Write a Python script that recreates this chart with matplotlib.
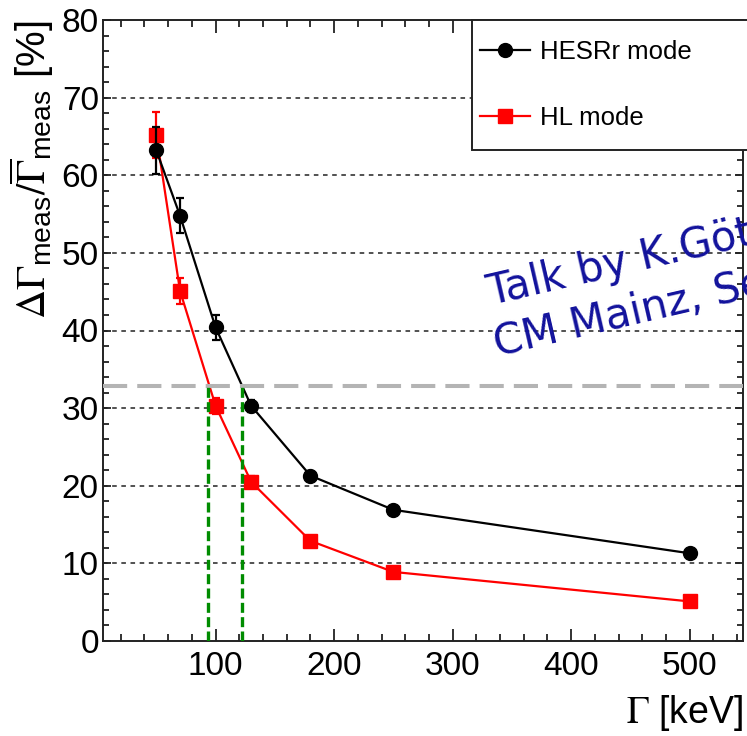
import matplotlib
matplotlib.use("Agg")
import matplotlib.pyplot as plt
from matplotlib.patches import Rectangle
from matplotlib.ticker import MultipleLocator

plt.rcParams['font.family'] = ['Liberation Sans', 'DejaVu Sans']
plt.rcParams['mathtext.fontset'] = 'custom'
plt.rcParams['mathtext.rm'] = 'STIXGeneral'
plt.rcParams['mathtext.it'] = 'STIXGeneral:italic'
plt.rcParams['mathtext.sf'] = 'Liberation Sans'

# data
gamma = [50, 70, 100, 130, 180, 250, 500]
hesr = [63.2, 54.8, 40.4, 30.3, 21.3, 16.9, 11.3]
hesr_err = [3.0, 2.3, 1.6, 0.8, 0.6, 0.5, 0.4]
hl = [65.2, 45.1, 30.3, 20.5, 12.9, 8.9, 5.1]
hl_err = [3.0, 1.7, 1.0, 0.7, 0.5, 0.4, 0.3]
labels = ["HESRr mode", "HL mode"]
limit = 32.8
cross = [93.3, 122.0]

W, H = 747, 736
fig = plt.figure(figsize=(W / 100, H / 100), dpi=100)
ax = fig.add_axes([103 / W, 1 - 641 / H, 640 / W, 621 / H])

ax.set_xlim(5, 545)
ax.set_ylim(0, 80)

# grid (horizontal only)
for yv in range(10, 80, 10):
    ax.axhline(yv, color='#222222', lw=1.1, dashes=(3, 3), zorder=1)

e1 = ax.errorbar(gamma, hesr, yerr=hesr_err, color='black', marker='o', ms=10,
                 lw=1.6, elinewidth=1.6, capsize=3, capthick=1.6, zorder=4)
e2 = ax.errorbar(gamma, hl, yerr=hl_err, color='#ff0000', marker='s', ms=10,
                 lw=1.6, elinewidth=1.6, capsize=3, capthick=1.6, zorder=3)

ax.axhline(limit, color='#b4b4b4', lw=2.9, dashes=(6, 2.5), zorder=5, clip_on=False)
for xc in cross:
    ax.plot([xc, xc], [0, limit], color='#008c00', lw=2.4, dashes=(3, 1.3), zorder=5)

ax.xaxis.set_major_locator(MultipleLocator(100))
ax.xaxis.set_minor_locator(MultipleLocator(20))
ax.yaxis.set_major_locator(MultipleLocator(10))
ax.yaxis.set_minor_locator(MultipleLocator(2))
ax.tick_params(which='both', direction='in', top=True, right=True, width=1.3,
               labelsize=24, color='#222222')
ax.tick_params(axis='x', which='major', length=9, pad=7)
ax.tick_params(axis='x', which='minor', length=5)
ax.tick_params(axis='y', which='major', length=6, pad=3)
ax.tick_params(axis='y', which='minor', length=4)
for s in ax.spines.values():
    s.set_linewidth(1.4)
    s.set_color('#222222')

ax.set_ylabel(r'$\Delta\Gamma_{\mathsf{meas}}/\overline{\Gamma}_{\mathsf{meas}}$ [%]',
              fontsize=29, loc='top')
ax.yaxis.set_label_coords(-47 / 640, 1.0)
ax.set_xlabel(r'$\Gamma$ [keV]', fontsize=27, loc='right')
ax.xaxis.set_label_coords(1.0, -52 / 621)

# legend box (cut by the right edge of the figure)
box = Rectangle((472 / W, 1 - 150 / H), 320 / W, 130 / H, transform=fig.transFigure,
                facecolor='white', edgecolor='#222222', lw=1.4, clip_on=False, zorder=6)
ax.add_patch(box)
leg = ax.legend([e1.lines[0], e2.lines[0]], labels, loc='upper left', frameon=False,
                fontsize=18.5, bbox_to_anchor=(480 / W, 1 - 40 / H),
                bbox_transform=fig.transFigure, borderpad=0, borderaxespad=0,
                handlelength=1.95, handletextpad=0.4, labelspacing=1.65)
leg.set_zorder(7)

# watermark
fig.text(490 / W, 1 - 305 / H, "Talk by K.Götzen", rotation=13, rotation_mode='anchor',
         ha='left', va='baseline', fontsize=30, color='#12129c', family='DejaVu Sans')
fig.text(497 / W, 1 - 356 / H, "CM Mainz, Sept.", rotation=13, rotation_mode='anchor',
         ha='left', va='baseline', fontsize=30, color='#12129c', family='DejaVu Sans')

fig.savefig('out.png', dpi=100)
